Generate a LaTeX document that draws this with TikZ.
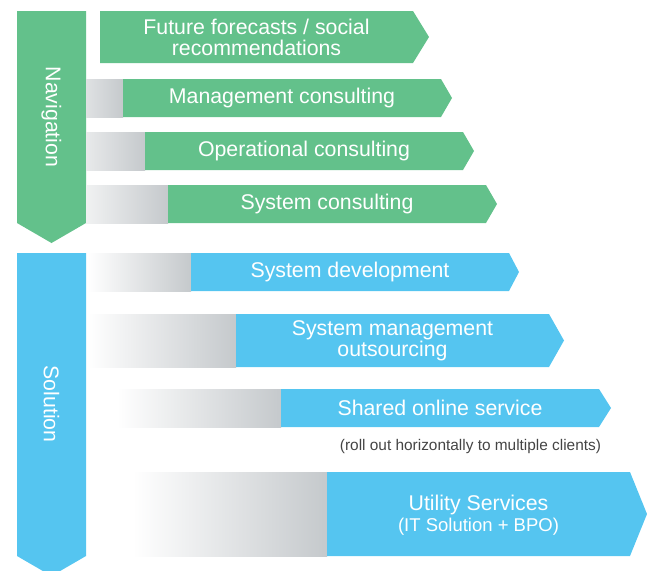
\documentclass[tikz,border=0pt]{standalone}
\usepackage{fontspec}
\setmainfont{Liberation Sans}
\definecolor{ngreen}{HTML}{63C18B}
\definecolor{sblue}{HTML}{55C5F0}
\definecolor{gdark}{HTML}{C5C9CC}
\definecolor{capgray}{HTML}{444444}
\begin{document}
\begin{tikzpicture}[x=1pt,y=-1pt,
  lbl/.style={text=white,font=\fontsize{21.3}{21.5}\selectfont,align=center,inner sep=0pt},
  captext/.style={text=capgray,font=\fontsize{15.4}{16}\selectfont,inner sep=0pt}]
\useasboundingbox (0,0) rectangle (647,570);
\clip (0,0) rectangle (647,570);
% vertical arrows
\fill[ngreen] (17,11) -- (86,11) -- (86,223) -- (51.5,243) -- (17,223) -- cycle;
\node[lbl,rotate=-90] (nav) at (51.5,117) {Navigation};
\fill[sblue] (17,253) -- (86,253) -- (86,556) -- (51.5,576) -- (17,556) -- cycle;
\node[lbl,rotate=-90] (sol) at (51.5,404) {Solution};
% row 1
\fill[ngreen] (100,11) -- (413,11) -- (429,37) -- (413,63) -- (100,63) -- cycle;
\node[lbl] (r1) at (256.5,37.5) {Future forecasts / social\\recommendations};
% row 2
\shade[left color=gdark!55,right color=gdark] (86,79) rectangle (123,117);
\fill[ngreen] (123,79) -- (441,79) -- (452,98) -- (441,117) -- (123,117) -- cycle;
\node[lbl] (r2) at (282,98) {Management consulting};
% row 3
\shade[left color=gdark!40,right color=gdark] (86,132) rectangle (145,170);
\fill[ngreen] (145,132) -- (463,132) -- (474,151) -- (463,170) -- (145,170) -- cycle;
\node[lbl] (r3) at (304,151) {Operational consulting};
% row 4
\shade[left color=gdark!25,right color=gdark] (86,185) rectangle (168,223);
\fill[ngreen] (168,185) -- (486,185) -- (497,204) -- (486,223) -- (168,223) -- cycle;
\node[lbl] (r4) at (327,204) {System consulting};
% row 5
\shade[left color=white,right color=gdark] (88,253) rectangle (191,291);
\fill[sblue] (191,253) -- (509,253) -- (519,272) -- (509,291) -- (191,291) -- cycle;
\node[lbl] (r5) at (350,272) {System development};
% row 6
\shade[left color=white,right color=gdark] (88,314) rectangle (236,367);
\fill[sblue] (236,314) -- (549,314) -- (564,340.5) -- (549,367) -- (236,367) -- cycle;
\node[lbl] (r6) at (392.5,341) {System management\\outsourcing};
% row 7
\shade[left color=white,right color=gdark] (117,389) rectangle (281,427);
\fill[sblue] (281,389) -- (599,389) -- (611,408) -- (599,427) -- (281,427) -- cycle;
\node[lbl] (r7) at (440,408) {Shared online service};
\node[captext] (c7) at (470.5,447) {(roll out horizontally to multiple clients)};
% row 8
\shade[left color=white,right color=gdark] (133,472) rectangle (327,556);
\fill[sblue] (327,472) -- (630,472) -- (647,514) -- (630,556) -- (327,556) -- cycle;
\node[lbl] (r8) at (478.5,515) {Utility Services\\{\fontsize{18.5}{21.5}\selectfont(IT Solution + BPO)}};
\end{tikzpicture}
\end{document}
